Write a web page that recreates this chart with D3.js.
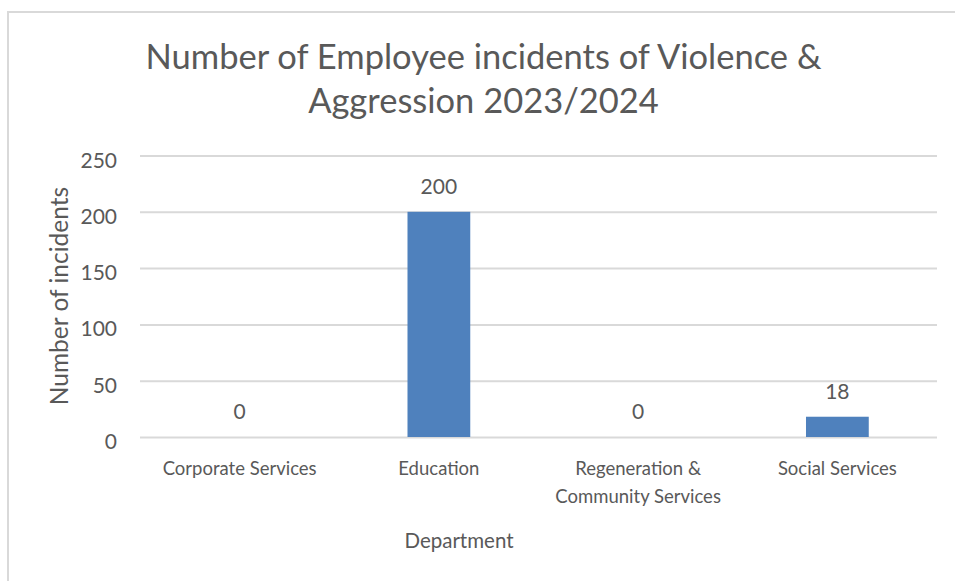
<!DOCTYPE html>
<html>
<head>
<meta charset="utf-8">
<script src="https://cdn.jsdelivr.net/npm/d3@7"></script>
<style>
  html, body { margin: 0; padding: 0; background: #fff; }
  svg { display: block; }
  text { font-family: "Lato", "Open Sans", sans-serif; fill: #595959; }
</style>
</head>
<body>
<svg id="chart" width="955" height="581"></svg>
<script>
const categories = ["Corporate Services", "Education", "Regeneration & Community Services", "Social Services"];
const categoryLines = [["Corporate Services"], ["Education"], ["Regeneration &", "Community Services"], ["Social Services"]];
const values = [0, 200, 0, 18];
const yTicks = [0, 50, 100, 150, 200, 250];
const titleLines = ["Number of Employee incidents of Violence &", "Aggression 2023/2024"];
const yAxisTitle = "Number of incidents";
const xAxisTitle = "Department";

const svg = d3.select("#chart");
const W = 955, H = 581;
const plot = { left: 140, right: 937, top: 155.5, bottom: 437 };

// chart border (top & left visible)
svg.append("rect")
  .attr("x", 8).attr("y", 12)
  .attr("width", W + 20).attr("height", H + 20)
  .attr("fill", "none").attr("stroke", "#d9d9d9").attr("stroke-width", 2);

const x = d3.scaleBand().domain(categories).range([plot.left, plot.right]).paddingInner(0.685).paddingOuter(0.3425);
const y = d3.scaleLinear().domain([0, 250]).range([plot.bottom, plot.top]);

// gridlines + tick labels
const yAxis = d3.axisLeft(y).tickValues(yTicks).tickSize(-(plot.right - plot.left)).tickPadding(23);
const gy = svg.append("g").attr("transform", `translate(${plot.left},0)`).call(yAxis);
gy.select(".domain").remove();
gy.selectAll(".tick line").attr("stroke", "#d9d9d9").attr("stroke-width", 2);
gy.selectAll(".tick text")
  .attr("font-size", 21)
  .attr("fill", "#595959")
  .attr("dy", "0.55em")
  .style("font-family", "Lato");

// bars
svg.append("g").selectAll("rect").data(values).join("rect")
  .attr("x", (d, i) => x(categories[i]))
  .attr("width", x.bandwidth())
  .attr("y", d => y(d))
  .attr("height", d => y(0) - y(d))
  .attr("fill", "#4f81bd");

// value labels
svg.append("g").selectAll("text").data(values).join("text")
  .attr("x", (d, i) => x(categories[i]) + x.bandwidth() / 2)
  .attr("y", d => y(d) - 18)
  .attr("text-anchor", "middle")
  .attr("font-size", 21)
  .attr("fill", "#404040")
  .text(d => d);

// category labels
const cl = svg.append("g").selectAll("text").data(categoryLines).join("text")
  .attr("text-anchor", "middle")
  .attr("font-size", 18.5)
  .attr("transform", (d, i) => `translate(${x(categories[i]) + x.bandwidth() / 2},475)`);
cl.selectAll("tspan").data(d => d).join("tspan")
  .attr("x", 0)
  .attr("y", (d, j) => j * 28)
  .text(d => d);

// title
svg.append("g").selectAll("text").data(titleLines).join("text")
  .attr("x", 483.5)
  .attr("y", (d, i) => 69 + i * 44)
  .attr("text-anchor", "middle")
  .attr("font-size", 34.5)
  .text(d => d);

// y axis title
svg.append("text")
  .attr("transform", "translate(68,296) rotate(-90)")
  .attr("text-anchor", "middle")
  .attr("font-size", 24.5)
  .text(yAxisTitle);

// x axis title
svg.append("text")
  .attr("x", 459).attr("y", 548)
  .attr("text-anchor", "middle")
  .attr("font-size", 20.5)
  .text(xAxisTitle);
</script>
</body>
</html>
